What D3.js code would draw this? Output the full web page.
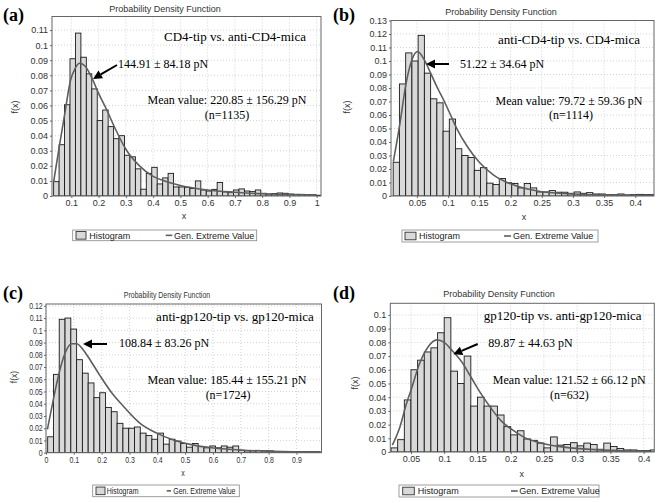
<!DOCTYPE html>
<html><head><meta charset="utf-8">
<script src="https://cdn.jsdelivr.net/npm/d3@7"></script>
<style>body{margin:0;background:#fff}svg{display:block}</style>
</head><body>
<svg id="chart" width="662" height="503"></svg>
<script>
// ---------- DATA ----------
// (a) CD4-tip vs. anti-CD4-mica
const aBinStart = 0.035, aBinWidth = 0.02;
const aHeights = [0.0095,0.034,0.0605,0.091,0.108,0.092,0.081,0.071,0.050,0.057,0.046,0.038,0.040,0.027,0.026,0.018,0.0045,0.015,0.019,0.008,0.012,0.015,0.006,0.006,
  0.0058,0.005,0.010,0.004,0.0033,0.0044,0.009,0.0027,0.0022,0.004,0.0047,0.0033,0.0029,0.004,0.0018,0.0013,0.0016,0.002,0.0018,0.0013,0.0011,0.0011,0.0009,0.0009,0.0005];
const aCurve = [[0.035,0.0095],[0.056,0.033],[0.078,0.057],[0.096,0.076],[0.115,0.085],[0.13,0.088],[0.151,0.086],[0.176,0.078],[0.2,0.068],[0.23,0.057],[0.26,0.045],[0.3,0.031],[0.35,0.02],[0.4,0.013],[0.45,0.0095],[0.5,0.007],[0.6,0.004],[0.7,0.0025],[0.8,0.0015],[0.9,0.001],[1.0,0.0007]];
const aXTicks = [0.1,0.2,0.3,0.4,0.5,0.6,0.7,0.8,0.9,1];
const aYTicks = [0,0.01,0.02,0.03,0.04,0.05,0.06,0.07,0.08,0.09,0.1,0.11];

// (b) anti-CD4-tip vs. CD4-mica
const bBinStart = 0.012, bBinWidth = 0.01;
const bHeights = [0.025,0.083,0.106,0.100,0.119,0.091,0.072,0.069,0.048,0.057,0.035,0.030,0.0285,0.019,0.021,0.0095,0.0085,0.013,0.0098,0.0093,
  0.006,0.0093,0.006,0.003,0.003,0.004,0.0028,0.0028,0.002,0.003,0.002,0.0025,0.0015,0.0015,0.001,0.001,0.0015,0.0008,0.001,0.0012,0.001,0.001];
const bCurve = [[0.0122,0.0254],[0.0229,0.054],[0.0325,0.083],[0.043,0.102],[0.051,0.107],[0.0617,0.101],[0.072,0.091],[0.083,0.080],[0.094,0.070],[0.104,0.060],[0.115,0.049],[0.131,0.0365],[0.15,0.025],[0.173,0.0155],[0.2,0.009],[0.25,0.0032],[0.3,0.0015],[0.35,0.0008],[0.4,0.0005],[0.43,0.0003]];
const bXTicks = [0.05,0.1,0.15,0.2,0.25,0.3,0.35,0.4];
const bYTicks = [0,0.01,0.02,0.03,0.04,0.05,0.06,0.07,0.08,0.09,0.1,0.11,0.12,0.13];

// (c) anti-gp120-tip vs. gp120-mica
const cBinStart = 0.006, cBinWidth = 0.0208;
const cHeights = [0.013,0.064,0.109,0.110,0.101,0.076,0.065,0.057,0.045,0.049,0.037,0.0335,0.024,0.020,0.020,0.021,0.016,0.014,0.011,0.016,
  0.007,0.011,0.0095,0.0075,0.0045,0.0075,0.005,0.004,0.0055,0.004,0.0055,0.0045,0.0055,0.002,0.0015,0.0015,0.0018,0.0015,0.0015,0.001,
  0.001,0.0008,0.0008,0.0008,0.0008,0.0008,0.0008];
const cCurve = [[0.005,0.019],[0.026,0.043],[0.047,0.065],[0.068,0.081],[0.092,0.089],[0.11,0.089],[0.134,0.084],[0.158,0.076],[0.194,0.063],[0.236,0.049],[0.278,0.038],[0.338,0.024],[0.398,0.016],[0.458,0.0104],[0.518,0.0068],[0.602,0.0038],[0.698,0.0022],[0.818,0.0011],[0.99,0.0005]];
const cXTicks = [0,0.1,0.2,0.3,0.4,0.5,0.6,0.7,0.8,0.9];
const cYTicks = [0,0.01,0.02,0.03,0.04,0.05,0.06,0.07,0.08,0.09,0.1,0.11,0.12];

// (d) gp120-tip vs. anti-gp120-mica
const dBinStart = 0.02, dBinWidth = 0.01;
const dHeights = [0.003,0.009,0.038,0.060,0.067,0.073,0.076,0.087,0.098,0.059,0.050,0.070,0.0335,0.040,0.0335,0.0335,0.027,0.0185,0.0125,0.0155,
  0.0095,0.0085,0.0065,0.003,0.011,0.005,0.0055,0.0068,0.0045,0.0065,0.0055,0.002,0.0065,0.004,0.0025,0.0015,0.0015,0.001,0.001,0.0015];
const dCurve = [[0.022,0.005],[0.0335,0.0185],[0.0436,0.036],[0.05,0.045],[0.0625,0.064],[0.0762,0.077],[0.0887,0.0818],[0.1,0.080],[0.111,0.0745],[0.126,0.066],[0.141,0.054],[0.156,0.042],[0.171,0.0315],[0.186,0.0225],[0.2,0.017],[0.221,0.0105],[0.25,0.006],[0.29,0.003],[0.34,0.0014],[0.41,0.0006]];
const dXTicks = [0.05,0.1,0.15,0.2,0.25,0.3,0.35,0.4];
const dYTicks = [0,0.01,0.02,0.03,0.04,0.05,0.06,0.07,0.08,0.09,0.1];

const panelLabels = ["(a)","(b)","(c)","(d)"];
const pairTexts = ["CD4-tip vs. anti-CD4-mica","anti-CD4-tip vs. CD4-mica","anti-gp120-tip vs. gp120-mica","gp120-tip vs. anti-gp120-mica"];
const peakTexts = ["144.91 ± 84.18 pN","51.22 ± 34.64 pN","108.84 ± 83.26 pN","89.87 ± 44.63 pN"];
const meanTexts = ["Mean value: 220.85 ± 156.29 pN","Mean value: 79.72 ± 59.36 pN","Mean value: 185.44 ± 155.21 pN","Mean value: 121.52 ± 66.12 pN"];
const nTexts = ["(n=1135)","(n=1114)","(n=1724)","(n=632)"];

// ---------- LAYOUT ----------
const SANS = "'Liberation Sans', Arial, sans-serif";
const SERIF = "'Liberation Serif', 'Times New Roman', serif";
const panels = [
  {heights:aHeights, start:aBinStart, width:aBinWidth, curve:aCurve, xt:aXTicks, yt:aYTicks,
   fr:[52,16.5,321,196], xd:[0.029,1.016], yd:[0,0.119], fs:9, sx:1,
   lab:[3,15], title:[165,9], xlab:[184,216], ylab:[15,107], pair:[235,36], peak:[118,64],
   arrow:[[117,65],[93,79]], mean:[227,100], n:[227,115],
   leg:[72.7,230,256.7,240.7], sw:[76,86], ht:89.3, ln:[165.7,172.3], gt:174},
  {heights:bHeights, start:bBinStart, width:bBinWidth, curve:bCurve, xt:bXTicks, yt:bYTicks,
   fr:[391,20.5,654,196], xd:[0.0085,0.43], yd:[0,0.13], fs:9, sx:1,
   lab:[333,15], title:[501,12], xlab:[524,217], ylab:[347,107], pair:[569,39], peak:[460,64],
   arrow:[[449,64],[426,64]], mean:[569,101], n:[571,115],
   leg:[402,230,598,242], sw:[405,416], ht:419, ln:[504,511], gt:513},
  {heights:cHeights, start:cBinStart, width:cBinWidth, curve:cCurve, xt:cXTicks, yt:cYTicks,
   fr:[46,304,321.5,452.7], xd:[0,0.99], yd:[0,0.1215], fs:8.5, sx:0.82,
   lab:[3,293], title:[167,295], xlab:[183,473], ylab:[14,377], pair:[235,316.7], peak:[119,342.7],
   arrow:[[107,344],[83,344]], mean:[227,379.3], n:[228,395],
   leg:[92.7,485,239.3,496.7], sw:[96,105], ht:106.7, ln:[166.7,171], gt:173.3},
  {heights:dHeights, start:dBinStart, width:dBinWidth, curve:dCurve, xt:dXTicks, yt:dYTicks,
   fr:[390.3,303.3,654.3,452], xd:[0.0189,0.416], yd:[0,0.1085], fs:9, sx:1,
   lab:[333,293], title:[499,294], xlab:[521.7,474], ylab:[355,383], pair:[562.7,315], peak:[488.3,342.7],
   arrow:[[477.7,344],[453.3,354.3]], mean:[569.3,379.3], n:[569.3,395],
   leg:[399,485,599,497], sw:[402.7,414.3], ht:417.7, ln:[511,517.7], gt:519.3}
];

const svg = d3.select("#chart");
const fmt = d => d === 0 ? "0" : d3.format("~g")(d);

function txt(g, x, y, s, o) {
  const t = g.append("text")
    .attr("transform", `translate(${x},${y}) rotate(${o.rot||0}) scale(${o.sx||1},1)`)
    .attr("dy", "0.35em")
    .attr("text-anchor", o.anchor || "start")
    .attr("font-family", o.family || SANS)
    .attr("font-size", o.size)
    .attr("font-weight", o.weight || "normal")
    .attr("fill", o.fill || "#000")
    .text(s);
  return t;
}

panels.forEach((p, i) => {
  const g = svg.append("g");
  const [x0, y0, x1, y1] = p.fr;
  const x = d3.scaleLinear().domain(p.xd).range([x0, x1]);
  const y = d3.scaleLinear().domain(p.yd).range([y1, y0]);

  // plot background
  g.append("rect").attr("x", x0).attr("y", y0).attr("width", x1 - x0).attr("height", y1 - y0).attr("fill", "#fff");

  // grid
  g.append("g").selectAll("line.gx").data(p.xt).join("line")
    .attr("x1", d => x(d)).attr("x2", d => x(d)).attr("y1", y0).attr("y2", y1)
    .attr("stroke", "#c8c8c8").attr("stroke-width", 0.8).attr("stroke-dasharray", "1,2");
  g.append("g").selectAll("line.gy").data(p.yt).join("line")
    .attr("x1", x0).attr("x2", x1).attr("y1", d => y(d)).attr("y2", d => y(d))
    .attr("stroke", "#c8c8c8").attr("stroke-width", 0.8).attr("stroke-dasharray", "1,2");

  // clip
  const cid = "clip" + i;
  svg.append("clipPath").attr("id", cid).append("rect")
    .attr("x", x0).attr("y", y0).attr("width", x1 - x0).attr("height", y1 - y0);
  const pg = g.append("g").attr("clip-path", `url(#${cid})`);

  // bars
  pg.selectAll("rect.bar").data(p.heights).join("rect")
    .attr("x", (d, k) => x(p.start + k * p.width))
    .attr("width", (d, k) => x(p.start + (k + 1) * p.width) - x(p.start + k * p.width))
    .attr("y", d => y(d))
    .attr("height", d => y(0) - y(d))
    .attr("fill", "#d9d9d9").attr("stroke", "#1a1a1a").attr("stroke-width", 0.9);

  // fitted curve
  pg.append("path").datum(p.curve)
    .attr("d", d3.line().x(d => x(d[0])).y(d => y(d[1])).curve(d3.curveMonotoneX))
    .attr("fill", "none").attr("stroke", "#5e5e5e").attr("stroke-width", 1.6);

  // frame
  g.append("rect").attr("x", x0).attr("y", y0).attr("width", x1 - x0).attr("height", y1 - y0)
    .attr("fill", "none").attr("stroke", "#666").attr("stroke-width", 1);

  // axes
  const xa = g.append("g").attr("transform", `translate(0,${y1})`)
    .call(d3.axisBottom(x).tickValues(p.xt).tickFormat(fmt).tickSize(2).tickPadding(2));
  const ya = g.append("g").attr("transform", `translate(${x0},0)`)
    .call(d3.axisLeft(y).tickValues(p.yt).tickFormat(fmt).tickSize(2).tickPadding(2));
  [xa, ya].forEach(a => {
    a.select(".domain").remove();
    a.selectAll(".tick line").attr("stroke", "#666");
    a.selectAll(".tick text").attr("font-family", SANS).attr("font-size", p.fs).attr("fill", "#333")
      .attr("transform", `scale(${p.sx},1)`);
  });

  // labels
  txt(g, p.lab[0], p.lab[1], panelLabels[i], {size: 18, family: SERIF, weight: "bold"});
  txt(g, p.title[0], p.title[1], "Probability Density Function", {size: p.fs, anchor: "middle", sx: p.sx, fill: "#333"});
  txt(g, p.xlab[0], p.xlab[1], "x", {size: p.fs, anchor: "middle", sx: p.sx, fill: "#333"});
  txt(g, p.ylab[0], p.ylab[1], "f(x)", {size: p.fs, anchor: "middle", rot: -90, sx: 1, fill: "#333"});

  // annotations
  txt(g, p.pair[0], p.pair[1], pairTexts[i], {size: 13, family: SERIF, anchor: "middle"});
  txt(g, p.peak[0], p.peak[1], peakTexts[i], {size: 12, family: SERIF});
  txt(g, p.mean[0], p.mean[1], meanTexts[i], {size: 12, family: SERIF, anchor: "middle"});
  txt(g, p.n[0], p.n[1], nTexts[i], {size: 12, family: SERIF, anchor: "middle"});

  // arrow
  const [[tx, ty], [hx, hy]] = p.arrow;
  const ang = Math.atan2(hy - ty, hx - tx);
  const L = 9, W = 4.5;
  const bx = hx - L * Math.cos(ang), by = hy - L * Math.sin(ang);
  g.append("line").attr("x1", tx).attr("y1", ty).attr("x2", bx).attr("y2", by)
    .attr("stroke", "#000").attr("stroke-width", 2);
  g.append("path").attr("d", `M${hx},${hy}L${bx - W * Math.sin(ang)},${by + W * Math.cos(ang)}L${bx + W * Math.sin(ang)},${by - W * Math.cos(ang)}Z`)
    .attr("fill", "#000");

  // legend
  const [lx0, ly0, lx1, ly1] = p.leg;
  const lc = (ly0 + ly1) / 2;
  g.append("rect").attr("x", lx0).attr("y", ly0).attr("width", lx1 - lx0).attr("height", ly1 - ly0)
    .attr("fill", "#fff").attr("stroke", "#888").attr("stroke-width", 0.8);
  g.append("rect").attr("x", p.sw[0]).attr("y", lc - 3.8).attr("width", p.sw[1] - p.sw[0]).attr("height", 7.6)
    .attr("fill", "#d9d9d9").attr("stroke", "#333").attr("stroke-width", 0.9);
  txt(g, p.ht, lc, "Histogram", {size: p.fs, sx: p.sx, fill: "#222"});
  g.append("line").attr("x1", p.ln[0]).attr("x2", p.ln[1]).attr("y1", lc).attr("y2", lc)
    .attr("stroke", "#5e5e5e").attr("stroke-width", 1.6);
  txt(g, p.gt, lc, "Gen. Extreme Value", {size: p.fs, sx: p.sx, fill: "#222"});
});
</script>
</body></html>
